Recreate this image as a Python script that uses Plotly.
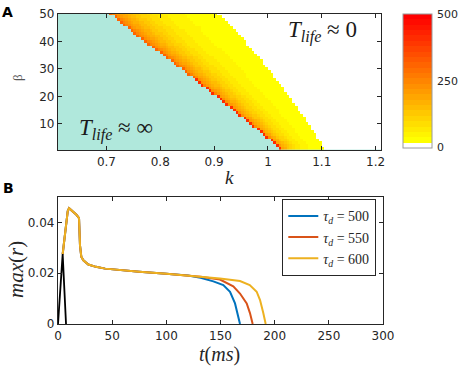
import numpy as np
import plotly.graph_objects as go

W, H = 459, 367

# ---------------- Panel A data ----------------
# Lower boundary (edge of the T_life ~ infinity region)
beta_low = [1.4, 10, 18.7, 32, 40, 50]
k_low = [1.019, 0.965, 0.911, 0.826, 0.770, 0.707]
# Upper boundary (edge of the T_life ~ 0 region)
beta_up = [1.6, 10.4, 19.8, 32.2, 45.3, 50]
k_up = [1.1026, 1.073, 1.041, 0.991, 0.935, 0.907]
# Lifetime profile across the band (fraction from lower to upper boundary)
prof_s = [0.0, 0.05, 0.1, 0.2, 0.3, 0.4, 0.5, 0.6, 0.7, 0.8, 0.9, 1.0]
prof_v = [280, 235, 195, 145, 108, 80, 60, 47, 38, 32, 27, 23]
edge_v_low_beta = 400   # red-orange cells at the boundary for small beta
edge_v_high_beta = 300  # orange cells at the boundary for large beta

k_cells = np.round(np.arange(0.6125, 1.21, 0.005), 4)
beta_cells = np.arange(1, 51)

z = np.full((len(beta_cells), len(k_cells)), np.nan)
for i, b in enumerate(beta_cells):
    kl = np.interp(b, beta_low, k_low)
    ku = np.interp(b, beta_up, k_up)
    first = True
    for j, kk in enumerate(k_cells):
        if kk < kl:
            continue
        if kk > ku:
            z[i, j] = 10
            continue
        s = (kk - kl) / (ku - kl)
        v = np.interp(s, prof_s, prof_v)
        if first:
            v = edge_v_low_beta if b <= 26 else edge_v_high_beta
            first = False
        z[i, j] = v

# discrete colormap: white then yellow -> red, 25 bands over 0..500
nb = 25
cscale = []
for i in range(nb):
    if i == 0:
        c = "rgb(255,255,255)"
    else:
        g = int(round(255 * (1 - (i - 1) / (nb - 2))))
        c = f"rgb(255,{g},0)"
    cscale.append([i / nb, c])
    cscale.append([(i + 1) / nb, c])

# ---------------- Panel B data ----------------
t_black = [0, 4.3, 7.4]
r_black = [0, 0.0275, 0]

t_common = [4.3, 7.4, 9.0, 10.2, 14, 17, 19.4, 20.3, 21.5, 23.4, 28, 35, 43.5, 50, 75, 100, 120]
r_common = [0.0275, 0.0376, 0.0445, 0.0456, 0.0442, 0.0430, 0.0417, 0.031, 0.0265, 0.0251,
            0.0234, 0.0225, 0.0218, 0.0215, 0.0206, 0.0198, 0.0191]

t_500 = [131.6, 143.4, 152.6, 158.8, 163.4, 166.5, 168.0]
r_500 = [0.0182, 0.0168, 0.0153, 0.0127, 0.0081, 0.0029, 0.0]
t_550 = [131.6, 149.5, 161.8, 168.0, 174.2, 177.2, 179.7]
r_550 = [0.0186, 0.0175, 0.0148, 0.0120, 0.0081, 0.0043, 0.0]
t_600 = [131.6, 149.5, 168.0, 177.0, 183.4, 186.5, 189.5, 191.7]
r_600 = [0.0188, 0.0179, 0.0169, 0.0153, 0.0127, 0.0094, 0.0043, 0.0]

series_names = ["<i>τ<sub>d</sub></i> = 500", "<i>τ<sub>d</sub></i> = 550", "<i>τ<sub>d</sub></i> = 600"]
series_colors = ["#0072BD", "#D95319", "#EDB120"]

xticks_a = [0.7, 0.8, 0.9, 1.0, 1.1, 1.2]
xtick_text_a = ["0.7", "0.8", "0.9", "1", "1.1", "1.2"]
yticks_a = [10, 20, 30, 40, 50]
xticks_b = [0, 50, 100, 150, 200, 250, 300]
yticks_b = [0, 0.02, 0.04]
ytick_text_b = ["0", "0.02", "0.04"]
cbar_ticks = [0, 250, 500]

# colorbar geometry (pixels)
CB_X, CB_TOP, CB_LEN, CB_TH = 403, 14, 134, 29

# ---------------- Figure ----------------
fig = go.Figure()

fig.add_trace(go.Heatmap(
    x=k_cells, y=beta_cells, z=z, zmin=0, zmax=500,
    colorscale=cscale, xaxis="x", yaxis="y", hoverinfo="skip",
    colorbar=dict(
        x=CB_X / W, xanchor="left", xpad=0, ypad=0,
        y=(H - CB_TOP) / H, yanchor="top",
        len=CB_LEN, lenmode="pixels", thickness=CB_TH, thicknessmode="pixels",
        outlinecolor="#9a9a9a", outlinewidth=1,
        tickvals=cbar_ticks, ticks="", showticklabels=False,
    ),
    showlegend=False,
))

for tt, rr, nm, col in [(t_500, r_500, series_names[0], series_colors[0]),
                         (t_550, r_550, series_names[1], series_colors[1]),
                         (t_600, r_600, series_names[2], series_colors[2])]:
    fig.add_trace(go.Scatter(
        x=t_common + tt, y=r_common + rr, mode="lines", name=nm,
        line=dict(color=col, width=2), xaxis="x2", yaxis="y2",
    ))

fig.add_trace(go.Scatter(
    x=t_black, y=r_black, mode="lines", line=dict(color="black", width=1.8),
    xaxis="x2", yaxis="y2", showlegend=False,
))

axis_common = dict(
    showline=True, linecolor="#262626", linewidth=1.3, mirror="ticks",
    ticks="inside", ticklen=4, tickcolor="#262626", showgrid=False, zeroline=False,
    automargin=False,
    tickfont=dict(family="DejaVu Sans", size=12, color="#262626"),
)

fig.update_layout(
    width=W, height=H,
    margin=dict(l=0, r=0, t=0, b=0, autoexpand=False),
    paper_bgcolor="white", plot_bgcolor="rgba(0,0,0,0)",
    xaxis=dict(domain=[58 / W, 381 / W], range=[0.61, 1.21], anchor="y",
               tickvals=xticks_a, ticktext=xtick_text_a, **axis_common),
    yaxis=dict(domain=[(H - 150) / H, (H - 14) / H], range=[0.5, 50], anchor="x",
               tickvals=yticks_a, **axis_common),
    xaxis2=dict(domain=[58 / W, 383 / W], range=[0, 300], anchor="y2",
                tickvals=xticks_b, **axis_common),
    yaxis2=dict(domain=[(H - 324) / H, (H - 197) / H], range=[0, 0.05], anchor="x2",
                tickvals=yticks_b, ticktext=ytick_text_b, **axis_common),
    legend=dict(
        x=376 / W, xanchor="right", y=(H - 199) / H, yanchor="top",
        bgcolor="white", bordercolor="#262626", borderwidth=1.3,
        font=dict(family="Liberation Serif", size=14, color="#262626"),
        tracegroupgap=0, itemwidth=30,
    ),
    showlegend=True,
)

# cyan background for the T_life ~ infinity region
fig.add_shape(type="rect", xref="x domain", yref="y domain", x0=0, x1=1, y0=0, y1=1,
              fillcolor="rgb(176,232,220)", line=dict(width=0), layer="below")

serif = "Liberation Serif"
ann = [
    dict(x=7 / W, y=(H - 12) / H, text="<b>A</b>", font=dict(family="DejaVu Sans", size=14, color="black")),
    dict(x=8 / W, y=(H - 188) / H, text="<b>B</b>", font=dict(family="DejaVu Sans", size=14, color="black")),
    dict(x=229 / W, y=(H - 177) / H, text="<i>k</i>", font=dict(family=serif, size=19, color="#262626")),
    dict(x=17 / W, y=(H - 78) / H, text="β", textangle=-90, font=dict(family=serif, size=13, color="#555555")),
    dict(x=16 / W, y=(H - 270) / H, text="<i>max</i>(<i>r</i>)", textangle=-90,
         font=dict(family=serif, size=21, color="#262626")),
    dict(x=219 / W, y=(H - 354) / H, text="<i>t</i>(<i>ms</i>)", font=dict(family=serif, size=20, color="#262626")),
    dict(x=116 / W, y=(H - 129) / H, text="<i>T<sub>life</sub></i> ≈ ∞", font=dict(family=serif, size=23, color="#1a1a1a")),
    dict(x=322 / W, y=(H - 31) / H, text="<i>T<sub>life</sub></i> ≈ 0", font=dict(family=serif, size=23, color="#1a1a1a")),
]
for a in ann:
    fig.add_annotation(xref="paper", yref="paper", showarrow=False, xanchor="center", yanchor="middle", **a)

# colorbar tick labels placed next to the bar
for v in cbar_ticks:
    ypix = CB_TOP + CB_LEN * (1 - v / 500)
    fig.add_annotation(xref="paper", yref="paper", showarrow=False, xanchor="left", yanchor="middle",
                       x=(CB_X + CB_TH + 3) / W, y=(H - ypix) / H, text=str(v),
                       font=dict(family="DejaVu Sans", size=11, color="#262626"))

fig.write_html("out.html", config={"displayModeBar": False},
               post_script="document.body.style.margin='0';document.body.style.overflow='hidden';")
